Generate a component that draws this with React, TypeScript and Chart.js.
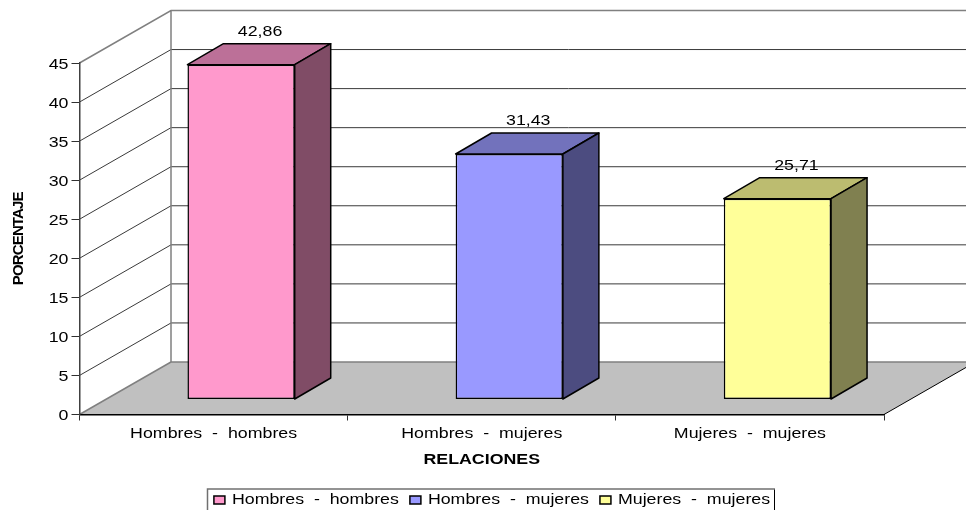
import React, { useEffect, useRef } from "react";
import { Chart, registerables } from "chart.js";

Chart.register(...registerables);

const categories = ["Hombres  -  hombres", "Hombres  -  mujeres", "Mujeres  -  mujeres"];
const values = [42.86, 31.43, 25.71];
const frontColors = ["#FF99CC", "#9999FF", "#FFFF99"];
const topColors = ["#BC7098", "#7272BC", "#BCBC70"];
const sideColors = ["#804C66", "#4C4C80", "#808050"];
const yTicks = [0, 5, 10, 15, 20, 25, 30, 35, 40, 45];

const FONT = '"Liberation Sans", Arial, sans-serif';
const STRETCH = 1.27;
// The projected box of the 3D chart.
const WALL_DX = 91.5;
const WALL_DY = -52.5;
const BAR_SHIFT_X = 27.5;
const BAR_SHIFT_Y = -15;
const BAR_DX = 36;
const BAR_DY = -21;

const scene3d = {
  id: "scene3d",
  afterLayout(chart: any) {
    const l = chart.legend;
    const sx = 50;
    const sy = 482 - l.top;
    l.left += sx;
    l.right += sx;
    l.top += sy;
    l.bottom += sy;
  },
  beforeDraw(chart: any) {
    const { ctx, chartArea: a, width } = chart;
    const y = chart.scales.y;
    const bx = a.left + WALL_DX;
    ctx.save();
    ctx.fillStyle = "#fff";
    ctx.fillRect(0, 0, chart.width, chart.height);
    const y0 = y.getPixelForValue(0);
    // floor
    ctx.beginPath();
    ctx.moveTo(a.left, y0);
    ctx.lineTo(bx, y0 + WALL_DY);
    ctx.lineTo(a.right + WALL_DX, y0 + WALL_DY);
    ctx.lineTo(a.right, y0);
    ctx.closePath();
    ctx.fillStyle = "#C0C0C0";
    ctx.fill();
    // grid lines on side and back walls
    ctx.lineWidth = 1;
    ctx.strokeStyle = "#3a3a3a";
    yTicks.slice(1, -1).forEach((v) => {
      const p = y.getPixelForValue(v);
      ctx.beginPath();
      ctx.moveTo(a.left, p);
      ctx.lineTo(bx, p + WALL_DY);
      ctx.lineTo(width, p + WALL_DY);
      ctx.stroke();
    });
    // wall frame
    const top = y.getPixelForValue(45);
    ctx.strokeStyle = "#808080";
    ctx.lineWidth = 1.5;
    ctx.beginPath();
    ctx.moveTo(a.left, top);
    ctx.lineTo(bx, top + WALL_DY);
    ctx.lineTo(width, top + WALL_DY);
    ctx.moveTo(bx, top + WALL_DY);
    ctx.lineTo(bx, y0 + WALL_DY);
    ctx.lineTo(width, y0 + WALL_DY);
    ctx.moveTo(bx, y0 + WALL_DY);
    ctx.lineTo(a.left, y0);
    ctx.stroke();
    ctx.strokeStyle = "#000";
    ctx.lineWidth = 1;
    ctx.beginPath();
    ctx.moveTo(a.right, y0);
    ctx.lineTo(a.right + WALL_DX, y0 + WALL_DY);
    ctx.stroke();
    ctx.restore();
  },
  beforeDatasetsDraw(chart: any) {
    const { ctx } = chart;
    ctx.save();
    ctx.translate(BAR_SHIFT_X, BAR_SHIFT_Y);
    ctx.lineWidth = 1.5;
    ctx.strokeStyle = "#000";
    ctx.lineJoin = "round";
    chart.getDatasetMeta(0).data.forEach((bar: any, i: number) => {
      const { x, y, width, base } = bar.getProps(["x", "y", "width", "base"], true);
      const l = x - width / 2;
      const r = x + width / 2;
      ctx.fillStyle = topColors[i];
      ctx.beginPath();
      ctx.moveTo(l, y);
      ctx.lineTo(l + BAR_DX, y + BAR_DY);
      ctx.lineTo(r + BAR_DX, y + BAR_DY);
      ctx.lineTo(r, y);
      ctx.closePath();
      ctx.fill();
      ctx.stroke();
      ctx.fillStyle = sideColors[i];
      ctx.beginPath();
      ctx.moveTo(r, y);
      ctx.lineTo(r + BAR_DX, y + BAR_DY);
      ctx.lineTo(r + BAR_DX, base + BAR_DY);
      ctx.lineTo(r, base);
      ctx.closePath();
      ctx.fill();
      ctx.stroke();
    });
  },
  afterDatasetsDraw(chart: any) {
    const { ctx } = chart;
    ctx.fillStyle = "#000";
    ctx.font = `14px ${FONT}`;
    ctx.textAlign = "center";
    ctx.textBaseline = "middle";
    chart.getDatasetMeta(0).data.forEach((bar: any, i: number) => {
      const { x, y } = bar.getProps(["x", "y"], true);
      ctx.fillText(values[i].toFixed(2).replace(".", ","), x + 19, y - 32.5);
    });
    ctx.restore();
  },
  afterDraw(chart: any) {
    const { ctx } = chart;
    ctx.save();
    ctx.lineWidth = 1;
    ctx.strokeStyle = "#000";
    ctx.beginPath();
    ctx.moveTo(774.5, 489);
    ctx.lineTo(774.5, 510);
    ctx.stroke();
    ctx.strokeStyle = "#707070";
    ctx.lineWidth = 1.5;
    ctx.beginPath();
    ctx.moveTo(775, 489);
    ctx.lineTo(207.5, 489);
    ctx.lineTo(207.5, 510);
    ctx.stroke();
    ctx.restore();
  },
};

function stretchText(ctx: any) {
  const fill = ctx.fillText.bind(ctx);
  const measure = ctx.measureText.bind(ctx);
  const isAxisTitle = () => ctx.font.includes("15px");
  ctx.fillText = (t: string, x: number, y: number) => {
    ctx.save();
    ctx.translate(x, y);
    if (isAxisTitle()) ctx.letterSpacing = "-0.85px";
    else ctx.scale(STRETCH, 1);
    fill(t, 0, 0);
    ctx.restore();
  };
  ctx.measureText = (t: string) => {
    const m = measure(t);
    return { width: m.width * (isAxisTitle() ? 1 : STRETCH) };
  };
  return () => {
    delete ctx.fillText;
    delete ctx.measureText;
  };
}

export default function App() {
  const ref = useRef<HTMLCanvasElement>(null);
  useEffect(() => {
    const canvas = ref.current!;
    const ctx = canvas.getContext("2d")!;
    const unpatch = stretchText(ctx);
    const chart = new Chart(canvas, {
      type: "bar",
      data: {
        labels: categories,
        datasets: [
          {
            data: values,
            backgroundColor: frontColors,
            borderColor: "#000",
            borderWidth: 1.5,
            borderSkipped: false,
            barPercentage: 0.4,
            categoryPercentage: 1,
            clip: false,
          } as any,
        ],
      },
      options: {
        responsive: false,
        animation: false,
        devicePixelRatio: 1,
        layout: { padding: { top: 63, right: 82, left: 0, bottom: 0 } },
        plugins: {
          tooltip: { enabled: false },
          legend: {
            position: "bottom",
            labels: {
              boxWidth: 11,
              boxHeight: 8,
              padding: 11,
              color: "#000",
              font: { family: FONT, size: 14 },
              generateLabels: () =>
                categories.map((text, i) => ({
                  text,
                  fillStyle: frontColors[i],
                  strokeStyle: "#000",
                  lineWidth: 1.5,
                  datasetIndex: 0,
                  index: i,
                })),
            },
          },
        },
        scales: {
          x: {
            grid: {
              offset: true,
              drawOnChartArea: false,
              drawTicks: true,
              tickLength: 6,
              color: (c: any) => (c.index === categories.length ? "#808080" : "#303030"),
            },
            border: { color: "#000", width: 1.5 },
            ticks: {
              padding: 5,
              color: "#000",
              maxRotation: 0,
              font: { family: FONT, size: 14 },
            },
            title: {
              display: true,
              text: "RELACIONES",
              color: "#000",
              font: { family: FONT, size: 14, weight: "bold" },
              padding: { top: 0, bottom: 6.5 },
            },
            afterFit(scale: any) {
              scale.height = 510 - 414.5 - scale.chart.legend.height;
            },
          },
          y: {
            min: 0,
            max: 45,
            afterBuildTicks(scale: any) {
              scale.ticks = yTicks.map((value) => ({ value }));
            },
            grid: { drawOnChartArea: false, drawTicks: true, tickLength: 8, color: "#303030" },
            border: { color: "#404040", width: 1.5 },
            ticks: {
              padding: 3,
              labelOffset: 2,
              color: "#000",
              font: { family: FONT, size: 14 },
            },
            title: {
              display: true,
              text: "PORCENTAJE",
              color: "#000",
              font: { family: FONT, size: 15, weight: "bold" },
              padding: { top: 9.5, bottom: 0 },
            },
            afterFit(scale: any) {
              scale.width = 79.5;
            },
          },
        },
      },
      plugins: [scene3d],
    } as any);
    return () => {
      chart.destroy();
      unpatch();
    };
  }, []);
  return (
    <div style={{ position: "absolute", left: 0, top: 0, width: 966, height: 510 }}>
      <canvas ref={ref} width={966} height={510} style={{ display: "block" }} />
    </div>
  );
}
